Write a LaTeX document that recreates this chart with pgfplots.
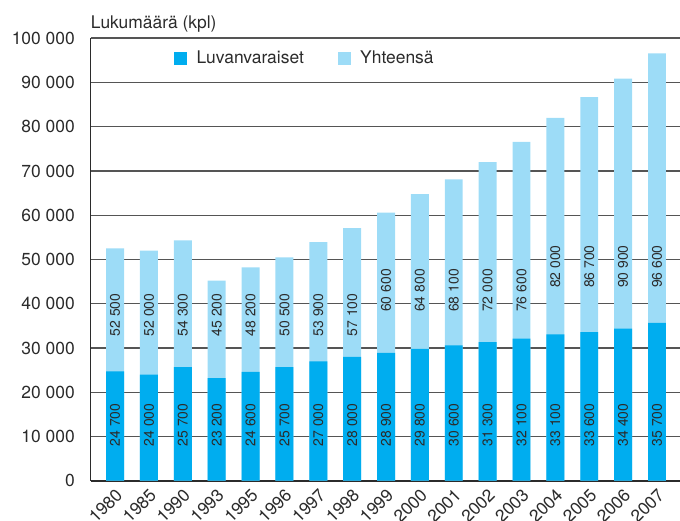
\documentclass[border=0pt]{standalone}
\usepackage{pgfplots}
\pgfplotsset{compat=1.18}
\usepackage{pgfplotstable}
\usepackage{fontspec}
\setmainfont{TeX Gyre Heros}
\usetikzlibrary{calc}
\definecolor{darkb}{HTML}{00ADEF}
\definecolor{lightb}{HTML}{9DDCF7}
\definecolor{txt}{HTML}{2B2B2B}
\definecolor{gridc}{HTML}{555555}

\pgfplotstableread{
x  dark  total  lpos
0  24700 52500 37450
1  24000 52000 37450
2  25700 54300 37450
3  23200 45200 37450
4  24600 48200 37450
5  25700 50500 37450
6  27000 53900 37450
7  28000 57100 37450
8  28900 60600 43000
9  29800 64800 43000
10 30600 68100 43000
11 31300 72000 43000
12 32100 76600 43000
13 33100 82000 48400
14 33600 86700 48400
15 34400 90900 48400
16 35700 96600 48400
}\data

\begin{document}
\begin{tikzpicture}
\begin{axis}[
  name=ax,
  scale only axis,
  width=589.3bp, height=442.4bp,
  xmin=-0.72, xmax=16.68,
  ymin=0, ymax=100000,
  ytick distance=10000,
  scaled y ticks=false,
  axis x line*=bottom, axis y line*=left,
  axis line style={draw=txt, line width=1.6bp},
  major tick length=0pt,
  ymajorgrids,
  grid style={draw=gridc, line width=1.2bp},
  extra y ticks={100000}, extra y tick labels={},
  extra y tick style={grid style={draw=gridc, line width=2bp}},
  xtick=data,
  xticklabels={1980,1985,1990,1993,1995,1996,1997,1998,1999,2000,2001,2002,2003,2004,2005,2006,2007},
  xticklabel style={rotate=45, anchor=east, inner sep=0pt, xshift=-5bp, yshift=-11bp},
  /pgf/number format/assume math mode=true,
  /pgf/number format/1000 sep={\ },
  yticklabel={\pgfmathprintnumber[fixed,1000 sep={\ }]{\tick}},
  yticklabel style={anchor=east, inner sep=0pt, xshift=-15.7bp},
  ticklabel style={font=\fontsize{17.5}{20}\selectfont, text=txt},
  legend style={at={(0.1414,0.9555)}, anchor=west, draw=none, fill=none,
    inner sep=0pt, font=\fontsize{17.5}{20}\selectfont, text=txt,
    nodes={inner sep=0pt},
    /tikz/every odd column/.append style={column sep=10bp},
    /tikz/every even column/.append style={column sep=34bp}},
  legend columns=2,
  legend cell align=left,
  clip=false,
]
\addplot[ybar, bar width=0.53, bar shift=0pt, fill=lightb, draw=none, forget plot] table[x=x, y=total] {\data};
\addplot[ybar, bar width=0.53, bar shift=0pt, fill=darkb, draw=none, forget plot] table[x=x, y=dark] {\data};

\addplot[draw=none, mark=none, forget plot, nodes near coords, point meta=explicit,
  every node near coord/.append style={rotate=90, anchor=center, inner sep=0pt,
    font=\fontsize{14}{16}\selectfont, text=txt}]
  table[x=x, y=lpos, meta=total] {\data};
\addplot[draw=none, mark=none, forget plot, nodes near coords, point meta=explicit,
  every node near coord/.append style={rotate=90, anchor=center, inner sep=0pt,
    font=\fontsize{14}{16}\selectfont, text=txt}]
  table[x=x, y expr=12600, meta=dark] {\data};

\addlegendimage{legend image code/.code={\fill[darkb] (0bp,-6bp) rectangle (12bp,6bp);}}
\addlegendentry{Luvanvaraiset}
\addlegendimage{legend image code/.code={\fill[lightb] (0bp,-6bp) rectangle (12bp,6bp);}}
\addlegendentry{Yhteensä}
\end{axis}
\node[anchor=base west, inner sep=0pt, text=txt, font=\fontsize{17.5}{20}\selectfont] at ($(ax.north west)+(0,10bp)$) {Lukumäärä (kpl)};
\pgfresetboundingbox
\path ($(ax.south west)+(-90.7bp,-40.3bp)$) rectangle ($(ax.north east)+(0bp,38.3bp)$);
\end{tikzpicture}
\end{document}
